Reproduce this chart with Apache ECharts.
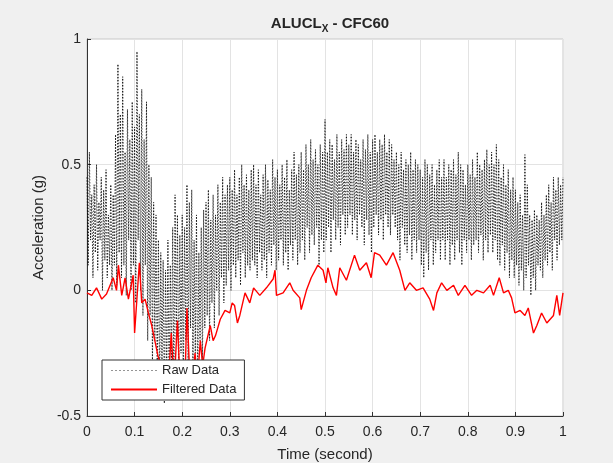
<!DOCTYPE html>
<html><head><meta charset="utf-8">
<script src="https://cdn.jsdelivr.net/npm/echarts@6/dist/echarts.min.js"></script>
<style>html,body{margin:0;padding:0;background:#f0f0f0;}#c{width:613px;height:463px;}</style>
</head><body><div id="c"></div>
<script>
// Raw data sampled every 0.0025 s from t = 0 to 1
const rawStep = 0.0025;
const rawValues = [
 0.45, 0.1, 0.55, 0.2, 0.38, 0.05, 0.42, 0.15, 0.5, 0.08, 0.35, 0.2, 0.45, 0.0, 0.4, 0.12, 0.48, 0.05, 0.3, 0.1,
 0.42, 0.0, 0.38, 0.1, 0.62, 0.02, 0.9, 0.15, 0.7, 0.05, 0.85, 0.1, 0.55, -0.02, 0.72, 0.2, 0.6, 0.0, 0.75, 0.1,
 0.65, -0.05, 0.95, 0.2, 0.7, 0.0, 0.8, -0.1, 0.6, 0.1, 0.75, -0.2, 0.5, -0.1, 0.45, -0.3, 0.35, -0.2, 0.3, -0.35,
 0.2, -0.4, 0.15, -0.3, 0.12, -0.45, 0.08, -0.35, 0.2, -0.42, 0.1, -0.3, 0.25, -0.4, 0.38, -0.2, 0.3, -0.35, 0.22, -0.25,
 0.3, -0.38, 0.25, -0.2, 0.42, -0.3, 0.35, -0.15, 0.4, -0.35, 0.2, -0.25, 0.3, -0.4, 0.15, -0.2, 0.25, -0.3, 0.32, -0.15,
 0.35, -0.1, 0.4, -0.2, 0.28, -0.05, 0.38, -0.15, 0.3, 0.0, 0.42, -0.1, 0.35, 0.05, 0.45, -0.05, 0.38, 0.02, 0.42, 0.08,
 0.45, 0.0, 0.4, 0.1, 0.48, 0.05, 0.38, 0.12, 0.45, 0.02, 0.5, 0.15, 0.42, 0.05, 0.46, 0.1, 0.4, 0.08, 0.48, 0.12,
 0.5, 0.1, 0.42, 0.05, 0.48, 0.15, 0.38, 0.08, 0.46, 0.12, 0.5, 0.05, 0.44, 0.15, 0.4, 0.1, 0.52, 0.18, 0.45, 0.08,
 0.48, 0.12, 0.42, 0.2, 0.5, 0.1, 0.45, 0.15, 0.52, 0.08, 0.4, 0.18, 0.48, 0.12, 0.55, 0.2, 0.46, 0.1, 0.5, 0.15,
 0.55, 0.2, 0.48, 0.12, 0.58, 0.25, 0.5, 0.15, 0.6, 0.22, 0.52, 0.18, 0.56, 0.25, 0.5, 0.1, 0.58, 0.2, 0.55, 0.15,
 0.68, 0.2, 0.55, 0.25, 0.6, 0.15, 0.58, 0.28, 0.52, 0.2, 0.62, 0.25, 0.55, 0.18, 0.6, 0.3, 0.56, 0.22, 0.62, 0.25,
 0.58, 0.3, 0.62, 0.22, 0.55, 0.28, 0.6, 0.2, 0.58, 0.3, 0.52, 0.25, 0.6, 0.18, 0.56, 0.28, 0.62, 0.22, 0.55, 0.15,
 0.6, 0.25, 0.62, 0.3, 0.55, 0.22, 0.6, 0.28, 0.58, 0.2, 0.62, 0.3, 0.55, 0.25, 0.6, 0.22, 0.58, 0.3, 0.52, 0.25,
 0.55, 0.2, 0.5, 0.12, 0.55, 0.25, 0.48, 0.18, 0.52, 0.15, 0.5, 0.22, 0.55, 0.12, 0.48, 0.2, 0.52, 0.15, 0.5, 0.2,
 0.48, 0.1, 0.45, 0.05, 0.52, 0.15, 0.5, 0.08, 0.46, 0.2, 0.5, 0.1, 0.42, 0.15, 0.48, 0.2, 0.52, 0.12, 0.45, 0.2,
 0.52, 0.12, 0.45, 0.2, 0.5, 0.1, 0.48, 0.18, 0.52, 0.12, 0.46, 0.2, 0.55, 0.15, 0.5, 0.1, 0.48, 0.2, 0.42, 0.15,
 0.5, 0.2, 0.46, 0.12, 0.52, 0.18, 0.45, 0.2, 0.55, 0.15, 0.5, 0.22, 0.48, 0.12, 0.52, 0.2, 0.56, 0.15, 0.5, 0.22,
 0.55, 0.15, 0.5, 0.2, 0.58, 0.12, 0.52, 0.1, 0.45, 0.18, 0.5, 0.08, 0.42, 0.15, 0.48, 0.05, 0.4, 0.12, 0.45, 0.05,
 0.4, 0.1, 0.35, 0.02, 0.38, 0.08, 0.3, 0.0, 0.54, 0.05, 0.42, 0.1, 0.3, -0.02, 0.28, 0.05, 0.32, 0.0, 0.3, 0.1,
 0.28, 0.08, 0.35, 0.05, 0.3, 0.12, 0.38, 0.1, 0.42, 0.15, 0.35, 0.08, 0.45, 0.2, 0.4, 0.12, 0.45, 0.18, 0.42, 0.2,
 0.45
];
const filteredTime = [0,0.01,0.02,0.031,0.041,0.055,0.062,0.066,0.073,0.08,0.087,0.097,0.1,0.11,0.115,0.122,0.129,0.136,0.142,0.149,0.155,0.16,0.165,0.17,0.177,0.183,0.19,0.195,0.2,0.205,0.21,0.215,0.22,0.227,0.232,0.238,0.243,0.248,0.259,0.265,0.27,0.28,0.29,0.3,0.305,0.31,0.316,0.321,0.332,0.342,0.35,0.363,0.377,0.391,0.395,0.398,0.412,0.426,0.433,0.447,0.45,0.461,0.471,0.485,0.496,0.502,0.506,0.517,0.524,0.531,0.545,0.562,0.573,0.587,0.597,0.604,0.615,0.629,0.643,0.657,0.668,0.678,0.692,0.706,0.72,0.728,0.735,0.745,0.756,0.77,0.78,0.794,0.808,0.819,0.833,0.847,0.854,0.866,0.875,0.885,0.892,0.899,0.91,0.92,0.927,0.938,0.945,0.955,0.966,0.98,0.987,0.993,1.0];
const filteredValues = [-0.01,-0.02,0.01,-0.035,-0.015,0.05,0.0,0.10,-0.02,0.05,-0.035,0.06,-0.17,0.11,-0.05,-0.035,-0.09,-0.14,-0.195,-0.26,-0.3,-0.43,-0.32,-0.4,-0.17,-0.38,-0.12,-0.35,-0.3,-0.42,-0.07,-0.3,-0.38,-0.25,-0.36,-0.2,-0.3,-0.23,-0.14,-0.2,-0.18,-0.115,-0.08,-0.09,-0.05,-0.06,-0.13,-0.1,-0.01,-0.05,0.01,-0.02,0.01,0.045,0.08,-0.02,-0.01,0.03,0.0,-0.03,-0.077,0.0,0.05,0.10,0.08,0.03,0.09,0.01,-0.02,0.09,0.04,0.14,0.08,0.11,0.05,0.15,0.14,0.10,0.15,0.08,0.0,0.03,0.0,0.01,-0.035,-0.08,-0.01,0.03,0.0,0.02,-0.02,0.02,-0.02,0.0,-0.01,0.02,-0.02,0.05,-0.01,0.0,-0.03,-0.09,-0.08,-0.10,-0.07,-0.17,-0.14,-0.09,-0.13,-0.1,-0.02,-0.1,-0.01];
const xTicks = {min: 0, max: 1, interval: 0.1};
const yTicks = {min: -0.5, max: 1, interval: 0.5};

const rawData = rawValues.map((v, i) => [+(i * rawStep).toFixed(4), v]);
const filteredData = filteredTime.map((t, i) => [t, filteredValues[i]]);

const font = 'Liberation Sans, Arial, Helvetica, sans-serif';
const chart = echarts.init(document.getElementById('c'), null, {renderer: 'canvas'});
chart.setOption({
  backgroundColor: '#f0f0f0',
  animation: false,
  title: {
    text: '{a|ALUCL}{s|X}{a| - CFC60}',
    left: 325, top: 9, textAlign: 'center',
    textStyle: {
      rich: {
        a: {fontFamily: font, fontSize: 15, fontWeight: 'bold', color: '#262626'},
        s: {fontFamily: font, fontSize: 10, fontWeight: 'bold', color: '#262626', verticalAlign: 'bottom', padding: [10, 0, 0, 0]}
      }
    }
  },
  grid: {left: 87, right: 50, top: 39, bottom: 47, containLabel: false, outerBoundsMode: 'none',
         show: true, backgroundColor: '#ffffff', borderColor: '#c8c8c8', borderWidth: 1},
  legend: {
    orient: 'vertical', left: 102, top: 360,
    backgroundColor: '#ffffff', borderColor: '#333', borderWidth: 1,
    padding: [4, 8, 4, 8], itemGap: 6, itemWidth: 46, itemHeight: 10,
    textStyle: {fontFamily: font, fontSize: 13, color: '#262626'},
    itemStyle: {opacity: 0, borderWidth: 0},
    data: [
      {name: 'Raw Data', lineStyle: {color: '#8a8a8a', width: 1, type: [2, 2]}},
      {name: 'Filtered Data'}
    ]
  },
  xAxis: {
    type: 'value', min: xTicks.min, max: xTicks.max, interval: xTicks.interval,
    name: 'Time (second)', nameLocation: 'middle', nameGap: 31,
    nameTextStyle: {fontFamily: font, fontSize: 15, color: '#262626'},
    axisLine: {onZero: false, lineStyle: {color: '#333'}},
    axisTick: {inside: true, length: 4, lineStyle: {color: '#333'}},
    axisLabel: {fontFamily: font, fontSize: 14, color: '#262626', margin: 9},
    splitLine: {show: true, lineStyle: {color: '#e3e3e3', width: 1}}
  },
  yAxis: {
    type: 'value', min: yTicks.min, max: yTicks.max, interval: yTicks.interval,
    name: 'Acceleration (g)', nameLocation: 'middle', nameGap: 36,
    nameTextStyle: {fontFamily: font, fontSize: 15, color: '#262626'},
    axisLine: {show: true, lineStyle: {color: '#333'}},
    axisTick: {show: true, inside: true, length: 4, lineStyle: {color: '#333'}},
    axisLabel: {fontFamily: font, fontSize: 14, color: '#262626', margin: 6},
    splitLine: {show: true, lineStyle: {color: '#e3e3e3', width: 1}}
  },
  series: [
    {name: 'Raw Data', type: 'line', data: rawData, showSymbol: false, symbol: 'none',
     lineStyle: {color: '#000', width: 0.9, type: [1.5, 1.5], opacity: 0.9}, itemStyle: {color: '#000'}},
    {name: 'Filtered Data', type: 'line', data: filteredData, showSymbol: false, symbol: 'none',
     lineStyle: {color: '#ff0000', width: 1.4}, itemStyle: {color: '#ff0000'}}
  ]
});
</script></body></html>
